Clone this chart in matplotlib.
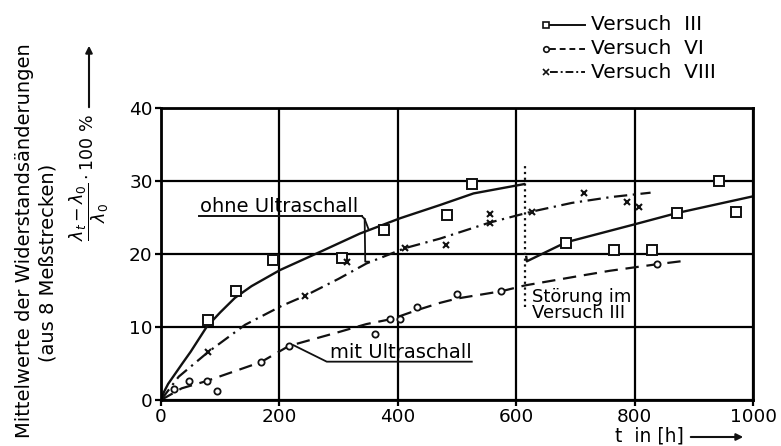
import matplotlib
matplotlib.use("Agg")
import matplotlib.pyplot as plt
from matplotlib.lines import Line2D
from matplotlib.patches import FancyArrowPatch

# ---- measured data -------------------------------------------------------
# Versuch III (squares, solid fit; interrupted by a disturbance at ~615 h)
v3_x = [79, 127, 189, 305, 377, 483, 525, 684, 766, 829, 871, 943, 972]
v3_y = [11.0, 14.9, 19.2, 19.5, 23.3, 25.4, 29.6, 21.5, 20.5, 20.6, 25.6, 30.0, 25.7]
v3_fit1_x = [0, 5, 12, 24, 36, 50, 77, 100, 125, 153, 201, 269, 336, 404, 471, 528, 615]
v3_fit1_y = [0, 1.1, 2.2, 3.6, 5.0, 6.6, 10.0, 12.0, 14.0, 15.6, 17.8, 20.3, 22.8, 24.9, 26.7, 28.3, 29.6]
v3_fit2_x = [617, 618, 684, 797, 871, 1000]
v3_fit2_y = [19.6, 19.0, 21.6, 24.0, 25.6, 27.9]

# Versuch VI (circles, dashed fit)
v6_x = [22, 48, 77, 94, 169, 216, 361, 387, 404, 432, 500, 575, 838]
v6_y = [1.55, 2.6, 2.6, 1.3, 5.2, 7.4, 9.1, 11.1, 11.1, 12.7, 14.5, 14.9, 18.6]
v6_fit_x = [0, 35, 77, 169, 216, 300, 347, 390, 432, 471, 500, 575, 615, 700, 758, 838, 878]
v6_fit_y = [0, 1.6, 2.6, 5.2, 7.4, 9.3, 10.4, 11.1, 12.3, 13.3, 13.9, 14.9, 15.7, 16.9, 17.7, 18.6, 19.0]

# Versuch VIII (crosses, dash-dot fit)
v8_x = [80, 244, 314, 412, 481, 555, 556, 626, 715, 788, 808]
v8_y = [6.6, 14.2, 18.9, 20.8, 21.2, 25.5, 24.3, 25.8, 28.4, 27.1, 26.5]
v8_fit_x = [0, 30, 80, 142, 204, 244, 300, 347, 412, 471, 555, 626, 694, 760, 827]
v8_fit_y = [0, 3.2, 6.6, 10.3, 12.9, 14.3, 16.6, 18.7, 20.8, 22.1, 24.3, 25.8, 27.0, 27.8, 28.4]

x_ticks = [0, 200, 400, 600, 800, 1000]
y_ticks = [0, 10, 20, 30, 40]
legend_labels = ["Versuch  III", "Versuch  VI", "Versuch  VIII"]

# ---- figure --------------------------------------------------------------
W, H = 781, 446
fig = plt.figure(figsize=(W / 100, H / 100), dpi=100)
plt.rcParams["font.family"] = ["DejaVu Sans"]


def fx(px):
    return px / W


def fy(py):
    return 1 - py / H


ax = fig.add_axes([fx(161), fy(400), (753 - 161) / W, (400 - 108) / H])
ax.set_xlim(0, 1000)
ax.set_ylim(0, 40)
ax.set_xticks(x_ticks)
ax.set_yticks(y_ticks)
ax.tick_params(labelsize=13.3, length=4, width=1.6, pad=2, colors="black")
ax.grid(True, color="black", lw=1.6)
for s in ax.spines.values():
    s.set_linewidth(2.0)
ax.set_axisbelow(True)

ink = "#111111"
# fitted curves
ax.plot(v3_fit1_x, v3_fit1_y, color=ink, lw=1.7, solid_capstyle="butt")
ax.plot(v3_fit2_x, v3_fit2_y, color=ink, lw=1.7)
ax.plot(v6_fit_x, v6_fit_y, color=ink, lw=1.6, ls=(0, (6, 3.5)))
ax.plot(v8_fit_x, v8_fit_y, color=ink, lw=1.6, ls=(0, (6, 2.5, 1, 2.5)))

# measured points
ax.plot(v3_x, v3_y, ls="none", marker="s", ms=6.5, mfc="white", mec=ink, mew=1.4)
ax.plot(v6_x, v6_y, ls="none", marker="o", ms=4.5, mfc="white", mec=ink, mew=1.3)
ax.plot(v8_x, v8_y, ls="none", marker="x", ms=4.5, mec=ink, mew=1.5)

# disturbance marker
ax.plot([615, 615], [12.8, 32.0], color=ink, lw=1.6, ls=(0, (1, 1.6)))
ax.text(626, 14.15, "Störung im", fontsize=13, va="center", ha="left")
ax.text(626, 11.9, "Versuch III", fontsize=13, va="center", ha="left")

# "ohne Ultraschall" label with leader lines
ax.text(66, 26.5, "ohne Ultraschall", fontsize=14, ha="left", va="center")
ax.plot([64, 339], [25.2, 25.2], color=ink, lw=1.4)
ax.plot([339, 344, 351], [25.2, 24.8, 23.3], color=ink, lw=1.3)
ax.plot([344, 345, 351], [24.8, 18.95, 18.95], color=ink, lw=1.3)

# "mit Ultraschall" label with leader line
ax.text(286, 6.5, "mit Ultraschall", fontsize=14, ha="left", va="center")
ax.plot([525, 280, 224], [5.25, 5.25, 7.5], color=ink, lw=1.3)

# ---- legend (top right) -------------------------------------------------
rows_py = [25, 49, 72]
styles = ["-", (0, (3, 2)), (0, (4, 1.5, 1, 1.5))]
markers = ["s", "o", "x"]
msizes = [5, 4, 4]
for py, lab, st, mk, msz in zip(rows_py, legend_labels, styles, markers, msizes):
    fig.add_artist(Line2D([fx(550), fx(585)], [fy(py), fy(py)], color=ink, lw=1.4, ls=st))
    fig.add_artist(Line2D([fx(546)], [fy(py)], marker=mk, ms=msz, mfc="white",
                          mec=ink, mew=1.2, ls="none"))
    fig.text(fx(591), fy(py), lab, fontsize=14.5, ha="left", va="center")

# ---- axis titles --------------------------------------------------------
fig.text(fx(25), fy(241), "Mittelwerte der Widerstandsänderungen", rotation=90,
         fontsize=14, ha="center", va="center")
fig.text(fx(48), fy(263), "(aus 8 Meßstrecken)", rotation=90,
         fontsize=14, ha="center", va="center")
fig.text(fx(89), fy(177), r"$\dfrac{\lambda_t-\lambda_0}{\lambda_0}\cdot 100\ \%$",
         rotation=90, fontsize=12.5, ha="center", va="center")
fig.add_artist(FancyArrowPatch((fx(89), fy(110)), (fx(89), fy(43)),
                               transform=fig.transFigure, arrowstyle="-|>",
                               mutation_scale=10, lw=1.5, color=ink))

fig.text(fx(615), fy(445), "t  in [h]", fontsize=13.5, ha="left", va="bottom")
fig.add_artist(FancyArrowPatch((fx(688), fy(437)), (fx(746), fy(437)),
                               transform=fig.transFigure, arrowstyle="-|>",
                               mutation_scale=10, lw=1.5, color=ink))

fig.savefig("out.png", dpi=100, facecolor="white")
